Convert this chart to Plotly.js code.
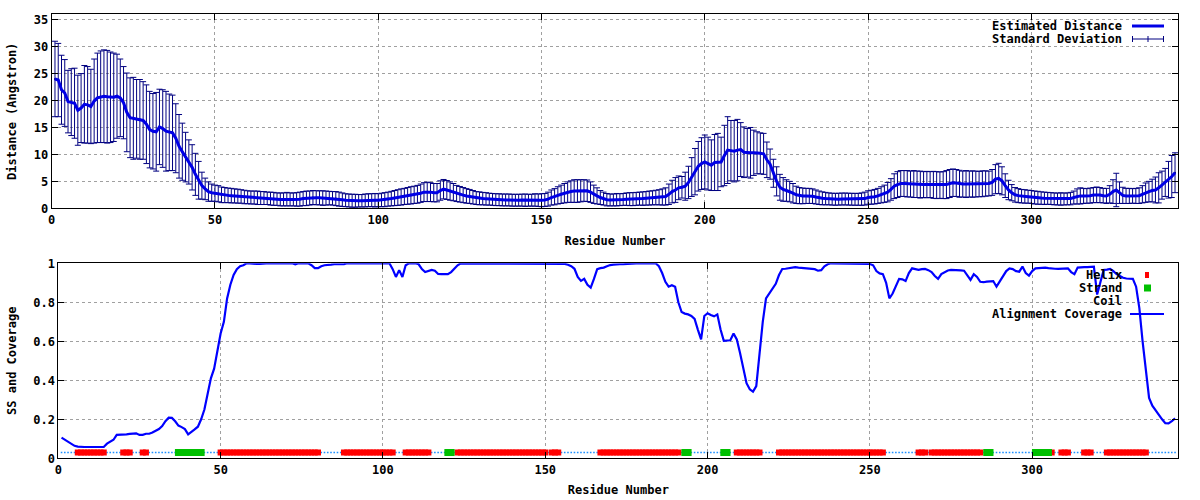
<!DOCTYPE html>
<html>
<head>
<meta charset="utf-8">
<script src="https://cdn.plot.ly/plotly-3.0.1.min.js"></script>
<style>html,body{margin:0;padding:0;background:#fff;}#chart{width:1200px;height:500px;}</style>
</head>
<body>
<div id="chart"></div>
<script>
// ---------- data ----------
const residues = Array.from({length: 344}, (_, i) => i + 1);

const estimatedDistance = [
  24.0, 23.8, 22.0, 21.4, 19.8, 19.7, 19.5, 18.2, 18.6, 19.3,
  19.2, 18.9, 19.9, 20.5, 20.7, 20.8, 20.7, 20.6, 20.6, 20.8,
  20.5, 19.6, 17.8, 16.8, 16.7, 16.6, 16.5, 16.3, 15.6, 14.6,
  14.3, 14.2, 15.1, 14.8, 14.3, 14.1, 14.0, 13.0, 11.5, 10.5,
  9.5, 8.6, 7.6, 6.3, 5.2, 4.2, 3.6, 3.1, 2.9, 2.8,
  2.7, 2.5, 2.45, 2.4, 2.35, 2.3, 2.25, 2.2, 2.1, 2.05,
  2.0, 2.0, 1.95, 1.9, 1.9, 1.85, 1.8, 1.75, 1.7, 1.65,
  1.65, 1.7, 1.65, 1.65, 1.65, 1.7, 1.8, 1.85, 1.9, 2.0,
  1.95, 1.95, 1.9, 1.9, 1.9, 1.85, 1.8, 1.7, 1.6, 1.5,
  1.45, 1.4, 1.4, 1.4, 1.4, 1.45, 1.5, 1.5, 1.5, 1.5,
  1.55, 1.6, 1.7, 1.8, 1.9, 2.0, 2.1, 2.2, 2.3, 2.4,
  2.5, 2.6, 2.8, 3.0, 3.05, 3.0, 2.9, 2.9, 3.3, 3.55,
  3.4, 3.2, 3.0, 2.75, 2.6, 2.45, 2.3, 2.2, 2.05, 1.9,
  1.85, 1.8, 1.75, 1.7, 1.65, 1.6, 1.6, 1.55, 1.55, 1.55,
  1.5, 1.5, 1.5, 1.52, 1.5, 1.5, 1.5, 1.55, 1.5, 1.5,
  1.55, 1.7, 2.0, 2.15, 2.4, 2.6, 2.8, 3.0, 3.1, 3.2,
  3.2, 3.25, 3.3, 3.25, 3.0, 2.6, 2.3, 2.0, 1.8, 1.6,
  1.55, 1.55, 1.6, 1.6, 1.65, 1.7, 1.7, 1.7, 1.75, 1.8,
  1.8, 1.85, 1.9, 1.95, 2.0, 2.05, 2.1, 2.2, 2.6, 3.1,
  3.4, 3.8, 3.9, 4.1, 4.8, 5.8, 6.8, 7.8, 8.3, 8.6,
  8.3, 8.0, 8.5, 8.6, 8.6, 9.8, 10.8, 10.7, 10.6, 10.8,
  10.9, 10.4, 10.3, 10.3, 10.3, 10.3, 10.2, 10.1, 9.0, 8.2,
  6.5, 5.0, 3.9, 3.5, 3.3, 3.1, 2.8, 2.5, 2.35, 2.3,
  2.3, 2.3, 2.25, 2.1, 1.95, 1.85, 1.8, 1.75, 1.7, 1.67,
  1.7, 1.72, 1.73, 1.7, 1.68, 1.67, 1.67, 1.7, 1.8, 2.0,
  2.05, 2.15, 2.3, 2.5, 2.7, 3.0, 3.5, 4.1, 4.4, 4.6,
  4.6, 4.55, 4.5, 4.5, 4.45, 4.4, 4.4, 4.4, 4.4, 4.35,
  4.3, 4.3, 4.3, 4.4, 4.6, 4.75, 4.7, 4.55, 4.5, 4.5,
  4.5, 4.5, 4.5, 4.5, 4.55, 4.6, 4.6, 4.8, 5.4, 5.55,
  5.1, 4.2, 3.4, 2.9, 2.5, 2.35, 2.25, 2.2, 2.16, 2.1,
  2.0, 1.95, 1.9, 1.85, 1.85, 1.8, 1.75, 1.73, 1.73, 1.73,
  1.75, 1.8, 2.0, 2.2, 2.3, 2.3, 2.3, 2.35, 2.45, 2.5,
  2.45, 2.35, 2.3, 2.6, 3.1, 3.4, 2.9, 2.4, 2.3, 2.3,
  2.3, 2.3, 2.35, 2.6, 2.9, 3.1, 3.3, 3.4, 3.8, 4.3,
  4.8, 5.3, 5.9, 6.6
];

const standardDeviation = [
  7.0, 6.8, 6.4, 6.2, 5.8, 6.2, 6.5, 6.5, 6.4, 7.2,
  7.1, 6.9, 7.8, 8.3, 8.5, 8.6, 8.6, 8.4, 8.2, 7.8,
  7.2, 6.7, 7.3, 7.4, 7.6, 7.3, 7.4, 7.2, 7.3, 7.1,
  7.0, 7.3, 7.0, 7.2, 7.4, 7.1, 7.0, 6.4, 5.9, 5.3,
  4.6, 4.1, 4.2, 3.9, 3.5, 2.5, 2.0, 1.8, 1.6, 1.5,
  1.5, 1.45, 1.4, 1.35, 1.35, 1.3, 1.3, 1.25, 1.25, 1.2,
  1.2, 1.2, 1.25, 1.2, 1.2, 1.15, 1.2, 1.2, 1.15, 1.2,
  1.2, 1.25, 1.2, 1.2, 1.25, 1.3, 1.3, 1.35, 1.3, 1.3,
  1.3, 1.3, 1.35, 1.3, 1.25, 1.25, 1.3, 1.3, 1.25, 1.2,
  1.2, 1.2, 1.2, 1.15, 1.15, 1.2, 1.2, 1.2, 1.25, 1.2,
  1.25, 1.3, 1.3, 1.35, 1.4, 1.45, 1.5, 1.5, 1.55, 1.6,
  1.6, 1.65, 1.7, 1.75, 1.8, 1.75, 1.7, 1.7, 1.8, 1.8,
  1.75, 1.7, 1.6, 1.5, 1.45, 1.4, 1.35, 1.3, 1.25, 1.2,
  1.2, 1.15, 1.15, 1.1, 1.1, 1.1, 1.1, 1.1, 1.1, 1.1,
  1.1, 1.1, 1.1, 1.1, 1.15, 1.1, 1.1, 1.15, 1.15, 1.2,
  1.2, 1.3, 1.4, 1.5, 1.6, 1.7, 1.8, 1.9, 2.0, 2.1,
  2.1, 2.05, 2.0, 2.0, 1.9, 1.7, 1.5, 1.3, 1.2, 1.15,
  1.1, 1.1, 1.15, 1.1, 1.1, 1.15, 1.2, 1.2, 1.2, 1.2,
  1.25, 1.25, 1.3, 1.3, 1.35, 1.4, 1.5, 1.6, 1.9, 2.1,
  2.3, 2.2, 2.0, 2.6, 3.0, 3.6, 4.3, 4.6, 4.8, 5.0,
  4.9, 4.7, 5.2, 5.3, 4.6, 5.6, 6.2, 5.6, 5.7, 5.7,
  5.0, 4.7, 4.5, 4.7, 4.2, 3.9, 3.8, 3.8, 3.3, 2.8,
  2.6, 2.7, 2.4, 2.2, 2.0, 1.9, 1.8, 1.6, 1.5, 1.45,
  1.4, 1.4, 1.35, 1.3, 1.25, 1.2, 1.15, 1.1, 1.1, 1.1,
  1.1, 1.1, 1.1, 1.1, 1.1, 1.1, 1.1, 1.15, 1.2, 1.25,
  1.3, 1.35, 1.4, 1.5, 1.6, 1.8, 2.0, 2.3, 2.4, 2.4,
  2.4, 2.45, 2.4, 2.5, 2.45, 2.5, 2.4, 2.45, 2.4, 2.5,
  2.5, 2.45, 2.5, 2.6, 2.6, 2.55, 2.5, 2.5, 2.4, 2.5,
  2.4, 2.45, 2.4, 2.35, 2.4, 2.35, 2.3, 2.4, 2.7, 2.8,
  2.6, 2.2, 1.8, 1.5, 1.35, 1.3, 1.25, 1.25, 1.2, 1.2,
  1.2, 1.2, 1.15, 1.15, 1.1, 1.1, 1.1, 1.1, 1.15, 1.1,
  1.1, 1.15, 1.2, 1.4, 1.5, 1.4, 1.35, 1.4, 1.4, 1.45,
  1.4, 1.35, 1.4, 1.6, 2.2, 3.1, 2.0, 1.5, 1.4, 1.4,
  1.35, 1.4, 1.45, 1.6, 1.8, 1.9, 2.1, 2.4, 2.8, 2.6,
  2.6, 3.4, 3.9, 3.7
];

const alignmentCoverage = [
  0.106, 0.095, 0.083, 0.072, 0.064, 0.060, 0.058, 0.058, 0.058, 0.058,
  0.058, 0.058, 0.058, 0.058, 0.075, 0.086, 0.095, 0.12, 0.12, 0.123,
  0.123, 0.125, 0.128, 0.128, 0.12, 0.12, 0.126, 0.126, 0.132, 0.14,
  0.15, 0.165, 0.19, 0.208, 0.207, 0.19, 0.168, 0.16, 0.15, 0.123,
  0.138, 0.148, 0.162, 0.2, 0.25, 0.33, 0.41, 0.46, 0.56, 0.64,
  0.70, 0.82, 0.89, 0.94, 0.97, 0.985, 0.99, 1.0, 1.0, 0.997,
  0.997, 0.997, 1.0, 1.0, 1.0, 1.0, 1.0, 1.0, 1.0, 1.0,
  1.0, 1.0, 0.995, 1.0, 1.0, 1.0, 1.0, 0.99, 0.975, 0.975,
  0.985, 0.99, 0.99, 0.993, 0.995, 0.995, 0.995, 0.995, 1.0, 1.0,
  1.0, 1.0, 1.0, 1.0, 1.0, 1.0, 1.0, 1.0, 1.0, 1.0,
  1.0, 1.0, 0.97, 0.93, 0.965, 0.93, 0.99, 1.0, 1.0, 1.0,
  0.995, 0.97, 0.955, 0.96, 0.966, 0.962, 0.945, 0.944, 0.944, 0.944,
  0.955, 0.975, 0.99, 1.0, 1.0, 1.0, 1.0, 1.0, 1.0, 1.0,
  1.0, 1.0, 1.0, 1.0, 1.0, 1.0, 1.0, 1.0, 1.0, 1.0,
  1.0, 1.0, 1.0, 1.0, 1.0, 1.0, 1.0, 1.0, 1.0, 1.0,
  1.0, 1.0, 1.0, 1.0, 1.0, 0.997, 0.993, 0.985, 0.972, 0.93,
  0.91, 0.92, 0.89, 0.875, 0.92, 0.97, 0.975, 0.978, 0.985, 0.991,
  0.993, 0.995, 0.995, 0.995, 0.997, 0.998, 0.998, 1.0, 1.0, 1.0,
  1.0, 1.0, 1.0, 1.0, 0.985, 0.95, 0.905, 0.88, 0.888, 0.88,
  0.8, 0.75, 0.742, 0.738, 0.73, 0.715, 0.66, 0.61, 0.73, 0.744,
  0.735, 0.728, 0.738, 0.66, 0.602, 0.602, 0.605, 0.64, 0.61, 0.54,
  0.462, 0.385, 0.354, 0.342, 0.37, 0.55, 0.7, 0.82, 0.845, 0.868,
  0.895, 0.94, 0.971, 0.972, 0.974, 0.976, 0.98, 0.978, 0.977, 0.976,
  0.975, 0.974, 0.97, 0.962, 0.965, 0.985, 0.995, 1.0, 1.0, 1.0,
  1.0, 1.0, 1.0, 1.0, 1.0, 1.0, 1.0, 1.0, 1.0, 0.997,
  0.99, 0.96, 0.948, 0.944, 0.9, 0.82, 0.845, 0.88, 0.92, 0.918,
  0.909, 0.95, 0.974, 0.97, 0.966, 0.97, 0.971, 0.965, 0.955, 0.935,
  0.92, 0.945, 0.955, 0.963, 0.966, 0.966, 0.965, 0.964, 0.962, 0.94,
  0.915, 0.944, 0.93, 0.905, 0.903, 0.906, 0.908, 0.909, 0.88, 0.905,
  0.935, 0.96, 0.974, 0.97, 0.96, 0.957, 0.983, 0.95, 0.937, 0.96,
  0.974, 0.976, 0.976, 0.978, 0.975, 0.975, 0.972, 0.971, 0.972, 0.974,
  0.974, 0.955, 0.944, 0.978, 0.98, 0.98, 0.98, 0.98, 0.983, 0.84,
  0.9, 0.966, 0.968, 0.971, 0.96, 0.944, 0.935, 0.926, 0.922, 0.92,
  0.92, 0.88, 0.77, 0.6, 0.44, 0.31, 0.27, 0.245, 0.22, 0.2,
  0.18, 0.179, 0.19, 0.205
];

// secondary structure segments (first residue, last residue)
const helixSegments = [[6,14],[20,22],[26,27],[50,80],[88,103],[107,114],[123,150],[152,154],
  [167,191],[209,216],[222,254],[265,267],[269,284],[306,306],[309,311],[316,318],[323,335]];
const strandSegments = [[37,44],[120,121],[193,194],[205,206],[286,287],[301,305]];
const ssLevel = 0.03;

const xTicks = [0, 50, 100, 150, 200, 250, 300];
const yTicksTop = [0, 5, 10, 15, 20, 25, 30, 35];
const yTicksBottom = [0, 0.2, 0.4, 0.6, 0.8, 1];
const yTickTextBottom = ['0', '0.2', '0.4', '0.6', '0.8', '1'];

// ---------- build SS point lists ----------
function inSegs(r, segs) { return segs.some(s => r >= s[0] && r <= s[1]); }
const helixX = residues.filter(r => inSegs(r, helixSegments));
const strandX = residues.filter(r => inSegs(r, strandSegments));
const coilX = residues.filter(r => !inSegs(r, helixSegments) && !inSegs(r, strandSegments));

// ---------- styling ----------
const FONT = {family: 'DejaVu Sans Mono', size: 12, color: '#000', weight: 'bold'};
const GRID = '#a0a0a0';
const px = v => v / 1200;
const py = v => 1 - v / 500;

function axisBase(extra) {
  return Object.assign({
    showline: true, linecolor: '#000', linewidth: 1, mirror: 'allticks',
    ticks: 'inside', ticklen: 6, tickcolor: '#000', tickwidth: 1,
    showgrid: true, gridcolor: GRID, griddash: 'dot', gridwidth: 1,
    zeroline: false, tickfont: FONT, fixedrange: true
  }, extra);
}

const traces = [
  { // error bars
    x: residues, y: estimatedDistance, xaxis: 'x', yaxis: 'y',
    type: 'scatter', mode: 'markers', marker: {size: 2, color: '#000080'},
    error_y: {type: 'data', array: standardDeviation, visible: true, color: '#000080', thickness: 1, width: 3},
    showlegend: false, hoverinfo: 'skip'
  },
  { // estimated distance
    x: residues, y: estimatedDistance, xaxis: 'x', yaxis: 'y',
    type: 'scatter', mode: 'lines', line: {color: '#0000e6', width: 3},
    showlegend: false
  },
  { // coil
    x: coilX, y: coilX.map(() => ssLevel), xaxis: 'x2', yaxis: 'y2',
    type: 'scatter', mode: 'markers', marker: {symbol: 'square', size: 1.6, color: '#1e90ff'},
    showlegend: false
  },
  { // helix
    x: helixX, y: helixX.map(() => ssLevel), xaxis: 'x2', yaxis: 'y2',
    type: 'scatter', mode: 'markers', marker: {symbol: 'square', size: 6, color: '#ff0000'},
    showlegend: false
  },
  { // strand
    x: strandX, y: strandX.map(() => ssLevel), xaxis: 'x2', yaxis: 'y2',
    type: 'scatter', mode: 'markers', marker: {symbol: 'square', size: 7, color: '#00c000'},
    showlegend: false
  },
  { // coverage
    x: residues, y: alignmentCoverage, xaxis: 'x2', yaxis: 'y2',
    type: 'scatter', mode: 'lines', line: {color: '#0000ff', width: 2.2},
    showlegend: false
  }
];

const ann = (text, xr, yr) => ({text, xref: 'paper', yref: 'paper', x: px(xr), y: py(yr),
  xanchor: 'right', yanchor: 'middle', showarrow: false, font: FONT});

const line = (x0, y0, x1, y1, color, width) => ({type: 'line', xref: 'paper', yref: 'paper',
  x0: px(x0), y0: py(y0), x1: px(x1), y1: py(y1), line: {color, width}, layer: 'above'});

const layout = {
  width: 1200, height: 500,
  margin: {l: 0, r: 0, t: 0, b: 0},
  paper_bgcolor: '#fff', plot_bgcolor: '#fff',
  font: FONT, showlegend: false,
  xaxis: axisBase({domain: [px(51.7), px(1178.3)], range: [0, 345], anchor: 'y',
    tickvals: xTicks, title: {text: 'Residue Number', font: FONT, standoff: 10}}),
  yaxis: axisBase({domain: [py(208.3), py(14.3)], range: [0, 36], anchor: 'x',
    tickvals: yTicksTop, title: {text: 'Distance (Angstron)', font: FONT, standoff: 14}}),
  xaxis2: axisBase({domain: [px(58.3), px(1178.3)], range: [0, 345], anchor: 'y2',
    tickvals: xTicks, title: {text: 'Residue Number', font: FONT, standoff: 9}}),
  yaxis2: axisBase({domain: [py(458.3), py(263.3)], range: [0, 1], anchor: 'x2',
    tickvals: yTicksBottom, ticktext: yTickTextBottom, title: {text: 'SS and Coverage', font: FONT, standoff: 14}}),
  annotations: [
    ann('Estimated Distance', 1124, 26),
    ann('Standard Deviation', 1124, 39),
    ann('Helix', 1124, 275),
    ann('Strand', 1124, 288),
    ann('Coil', 1124, 301),
    ann('Alignment Coverage', 1124, 314)
  ],
  shapes: [
    // opaque key boxes
    {type: 'rect', xref: 'paper', yref: 'paper', x0: px(997), x1: px(1172), y0: py(46), y1: py(15),
      fillcolor: '#fff', line: {width: 0}, layer: 'between'},
    {type: 'rect', xref: 'paper', yref: 'paper', x0: px(997), x1: px(1172), y0: py(322), y1: py(264),
      fillcolor: '#fff', line: {width: 0}, layer: 'between'},
    // key samples
    line(1132, 26, 1164, 26, '#0000e6', 3),
    line(1132, 39, 1164, 39, '#000080', 1),
    line(1132.5, 36, 1132.5, 42, '#000080', 1),
    line(1163.5, 36, 1163.5, 42, '#000080', 1),
    line(1148, 36, 1148, 42, '#000080', 1),
    {type: 'rect', xref: 'paper', yref: 'paper', x0: px(1145), x1: px(1149), y0: py(278), y1: py(272),
      fillcolor: '#ff0000', line: {width: 0}, layer: 'above'},
    {type: 'rect', xref: 'paper', yref: 'paper', x0: px(1144), x1: px(1151), y0: py(291.5), y1: py(284.5),
      fillcolor: '#00c000', line: {width: 0}, layer: 'above'},
    {type: 'rect', xref: 'paper', yref: 'paper', x0: px(1147), x1: px(1148), y0: py(301.5), y1: py(300.5),
      fillcolor: '#1e90ff', line: {width: 0}, layer: 'above'},
    line(1130, 314, 1164, 314, '#0000ff', 2.2)
  ]
};

Plotly.newPlot('chart', traces, layout, {staticPlot: true, displayModeBar: false});
</script>
</body>
</html>
